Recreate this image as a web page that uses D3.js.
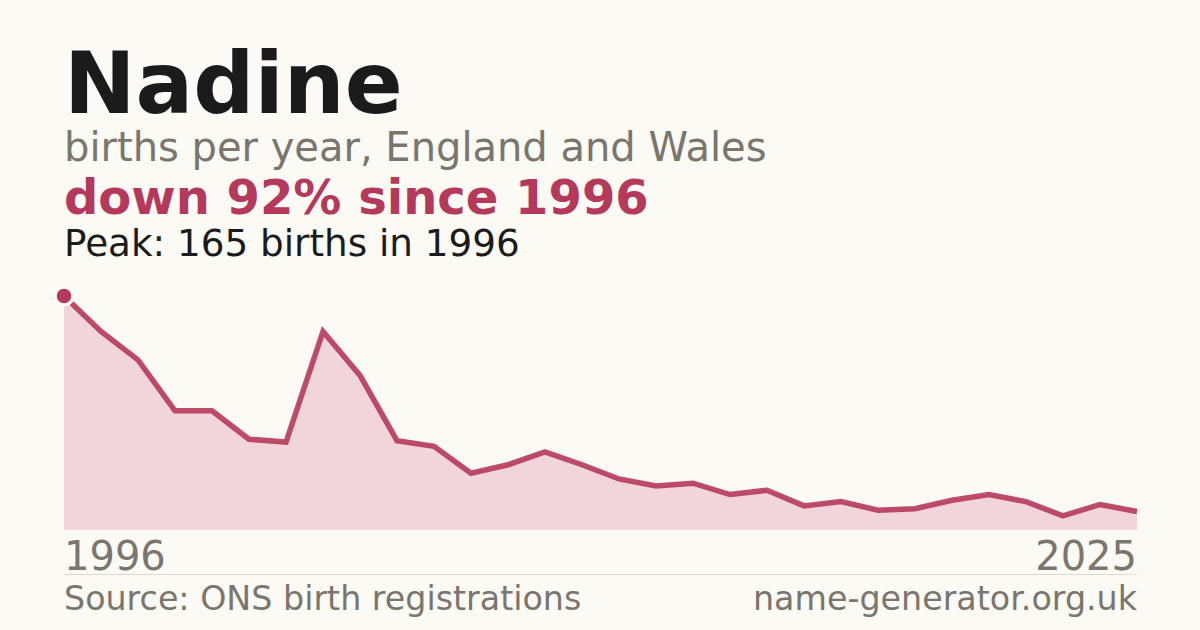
<!DOCTYPE html>
<html>
<head>
<meta charset="utf-8">
<script src="https://cdn.jsdelivr.net/npm/d3@7"></script>
<style>
  html, body { margin: 0; padding: 0; background: #fbfaf5; }
  svg { display: block; font-family: "DejaVu Sans", sans-serif; }
</style>
</head>
<body>
<div id="chart"></div>
<script>
// births per year for the name
const years = d3.range(1996, 2026);
const births = [165, 140, 120, 84, 84, 64, 62, 140, 109, 63,
                59, 40, 46, 55, 46, 36, 31, 33, 25, 28,
                17, 20, 14, 15, 21, 25, 20, 10, 18, 13];
const tickYears = [1996, 2025];

const W = 1200, H = 630;
const left = 64, right = 1137;
const plotTop = 296, plotBottom = 530;

const data = years.map((y, i) => ({year: y, value: births[i]}));
const peak = data.reduce((a, b) => (b.value > a.value ? b : a));

const svg = d3.select("#chart").append("svg")
  .attr("width", W).attr("height", H);

svg.append("rect").attr("width", W).attr("height", H).attr("fill", "#fbfaf5");

// titles
svg.append("text").attr("x", 64).attr("y", 113)
  .attr("font-size", 85.5).attr("font-weight", "bold").attr("fill", "#1b1b1b")
  .text("Nadine");
svg.append("text").attr("x", 64).attr("y", 161)
  .attr("font-size", 40).attr("fill", "#7a756d")
  .text("births per year, England and Wales");
svg.append("text").attr("x", 64).attr("y", 214)
  .attr("font-size", 48).attr("font-weight", "bold").attr("fill", "#b5395a")
  .text("down 92% since 1996");
svg.append("text").attr("x", 64).attr("y", 256)
  .attr("font-size", 37.3).attr("fill", "#1b1b1b")
  .text(`Peak: ${peak.value} births in ${peak.year}`);

// scales
const x = d3.scaleLinear().domain([1996, 2025]).range([left, right]);
const y = d3.scaleLinear().domain([0, d3.max(births)]).range([plotBottom, plotTop]);

// area + line
const area = d3.area()
  .x(d => x(d.year)).y0(plotBottom).y1(d => y(d.value));
const line = d3.line()
  .x(d => x(d.year)).y(d => y(d.value));

svg.append("path").datum(data)
  .attr("d", area).attr("fill", "#f2d5db");

svg.append("path").datum(data)
  .attr("d", line).attr("fill", "none")
  .attr("stroke", "#b5395a").attr("stroke-width", 5.5)
  .attr("stroke-opacity", 0.9)
  .attr("stroke-linejoin", "miter");

// peak dot
svg.append("circle")
  .attr("cx", x(peak.year)).attr("cy", y(peak.value)).attr("r", 9)
  .attr("fill", "#b5395a").attr("stroke", "#fbfaf5").attr("stroke-width", 3.5);

// year labels
svg.selectAll(".yr").data(tickYears).enter().append("text")
  .attr("class", "yr")
  .attr("x", d => x(d)).attr("y", 570)
  .attr("text-anchor", (d, i) => (i === 0 ? "start" : "end"))
  .attr("font-size", 40).attr("fill", "#7a756d")
  .text(d => d);

// divider + footer
svg.append("line").attr("x1", left).attr("x2", right)
  .attr("y1", 574.5).attr("y2", 574.5)
  .attr("stroke", "#dcd8cf").attr("stroke-width", 1);

svg.append("text").attr("x", 64).attr("y", 610)
  .attr("font-size", 33.3).attr("fill", "#7a756d")
  .text("Source: ONS birth registrations");
svg.append("text").attr("x", right).attr("y", 610)
  .attr("text-anchor", "end")
  .attr("font-size", 33.3).attr("fill", "#7a756d")
  .text("name-generator.org.uk");
</script>
</body>
</html>
